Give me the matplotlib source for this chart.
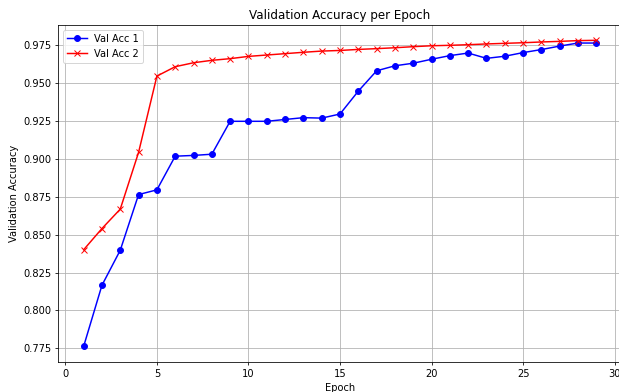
import matplotlib
matplotlib.use("Agg")
import matplotlib.pyplot as plt

epochs = list(range(1, 30))
val_acc_1 = [0.7763, 0.8166, 0.8397, 0.8764, 0.8795, 0.9017, 0.9022, 0.9030, 0.9247,
             0.9247, 0.9247, 0.9259, 0.9271, 0.9268, 0.9295, 0.9446, 0.9580, 0.9613,
             0.9630, 0.9656, 0.9680, 0.9697, 0.9662, 0.9676, 0.9700, 0.9720, 0.9743,
             0.9763, 0.9763]
val_acc_2 = [0.8400, 0.8540, 0.8668, 0.9042, 0.9545, 0.9607, 0.9633, 0.9649, 0.9660,
             0.9675, 0.9684, 0.9693, 0.9702, 0.9710, 0.9714, 0.9721, 0.9726, 0.9732,
             0.9739, 0.9745, 0.9748, 0.9752, 0.9757, 0.9761, 0.9765, 0.9770, 0.9774,
             0.9779, 0.9781]

DPI = 71
W, H = 619, 392
fig = plt.figure(figsize=(W / DPI, H / DPI), dpi=DPI)
ax = fig.add_axes([58 / W, (H - 361.7) / H, (622 - 58) / W, (361.7 - 25) / H])
ax.plot(epochs, val_acc_1, color="blue", marker="o", label="Val Acc 1")
ax.plot(epochs, val_acc_2, color="red", marker="x", label="Val Acc 2")
ax.set_title("Validation Accuracy per Epoch")
ax.set_xlabel("Epoch")
ax.set_ylabel("Validation Accuracy")
ax.legend(loc="upper left")
ax.grid(True)
fig.savefig("out.png", dpi=DPI)
